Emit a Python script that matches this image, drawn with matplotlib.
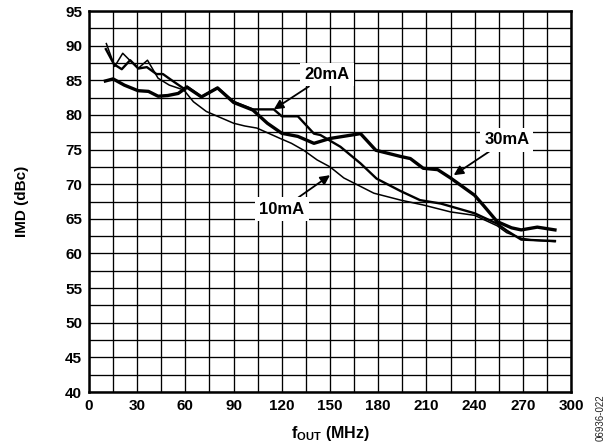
import matplotlib
matplotlib.use("Agg")
import matplotlib.pyplot as plt
from matplotlib.ticker import MultipleLocator

plt.rcParams['font.family'] = ['Liberation Sans', 'DejaVu Sans']
plt.rcParams['font.weight'] = 'bold'
plt.rcParams['mathtext.fontset'] = 'custom'
plt.rcParams['mathtext.rm'] = 'Liberation Sans:bold'
plt.rcParams['mathtext.bf'] = 'Liberation Sans:bold'
plt.rcParams['mathtext.it'] = 'Liberation Sans:bold'

# ---- data ----
freq_10ma = [10.8, 16, 21, 30.5, 36.4, 43, 50, 59, 65, 73, 90, 97, 104.5, 119, 126,
             133.6, 142, 150, 158.6, 177.3, 194, 208, 225, 240, 254, 260, 269, 277, 290]
imd_10ma = [90.3, 87.0, 88.9, 86.7, 87.9, 85.3, 84.3, 83.6, 81.9, 80.5, 78.8, 78.4, 78.1, 76.6, 75.9,
            74.9, 73.5, 72.5, 70.9, 68.7, 67.7, 67.0, 66.0, 65.5, 64.0, 63.0, 62.2, 61.9, 61.7]

freq_20ma = [10.5, 15.6, 20.4, 25.6, 30.8, 36, 42, 46, 51.5, 59, 61, 70, 80, 90, 102, 115,
             120, 130, 140, 144, 156.5, 169, 179, 194, 206, 219, 225, 240, 254, 260, 269, 290]
imd_20ma = [89.5, 87.3, 86.6, 87.9, 86.7, 86.9, 85.9, 85.9, 85.0, 83.8, 84.1, 82.6, 83.9, 81.9, 80.8, 80.8,
            79.8, 79.8, 77.3, 77.1, 75.4, 73.0, 70.8, 69.0, 67.7, 67.2, 66.8, 65.8, 64.3, 63.3, 62.0, 61.8]

freq_30ma = [10.2, 15, 22, 30.5, 37, 43, 49, 55.5, 61, 70, 80, 90, 102, 111, 120, 130, 140,
             150, 169, 178.5, 194, 200, 208, 217, 225, 240, 246, 254, 263, 269, 279, 290]
imd_30ma = [84.9, 85.2, 84.3, 83.5, 83.4, 82.7, 82.8, 83.1, 84.0, 82.6, 83.9, 81.8, 80.7, 78.8, 77.35, 76.9, 75.9,
            76.6, 77.3, 74.9, 74.0, 73.7, 72.3, 72.1, 70.9, 68.4, 66.8, 64.6, 63.7, 63.4, 63.8, 63.4]

x_ticks = [0, 30, 60, 90, 120, 150, 180, 210, 240, 270, 300]
y_ticks = [40, 45, 50, 55, 60, 65, 70, 75, 80, 85, 90, 95]

fig = plt.figure(figsize=(6.15, 4.48), dpi=100)
ax = fig.add_axes([0.1447, 0.125, 0.7838, 0.8504])

ax.plot(freq_10ma, imd_10ma, color='black', lw=1.1, zorder=3)
ax.plot(freq_20ma, imd_20ma, color='black', lw=1.7, zorder=3)
ax.plot(freq_30ma, imd_30ma, color='black', lw=2.4, zorder=3)

ax.set_xlim(0, 300)
ax.set_ylim(40, 95)
ax.set_xticks(x_ticks)
ax.set_yticks(y_ticks)
ax.xaxis.set_minor_locator(MultipleLocator(15))
ax.yaxis.set_minor_locator(MultipleLocator(2.5))
ax.grid(True, which='both', color='black', lw=0.95)
ax.set_axisbelow(True)
ax.tick_params(which='both', length=0, labelsize=11, pad=5)
for lab in ax.get_xticklabels() + ax.get_yticklabels():
    lab.set_fontweight('bold')
for s in ax.spines.values():
    s.set_linewidth(1.8)

ax.set_xlabel(r'f$_{\mathrm{OUT}}$ (MHz)', fontsize=11.5, fontweight='bold', labelpad=8)
ax.set_ylabel('IMD (dBc)', fontsize=11, fontweight='bold')
ax.yaxis.set_label_coords(-0.125, 0.5)

arrow = dict(arrowstyle='-|>', color='black', lw=1.3, mutation_scale=14, shrinkA=0, shrinkB=0)
box = dict(boxstyle='square,pad=0.25', fc='white', ec='none')
ax.annotate('20mA', xy=(115, 80.8), xytext=(148, 85.8), fontsize=12, fontweight='bold',
            ha='center', va='center', bbox=box, arrowprops=arrow, zorder=5)
ax.annotate('30mA', xy=(227, 71.3), xytext=(260, 76.4), fontsize=12, fontweight='bold',
            ha='center', va='center', bbox=box, arrowprops=arrow, zorder=5)
ax.annotate('10mA', xy=(150, 71.3), xytext=(120, 66.4), fontsize=12, fontweight='bold',
            ha='center', va='center', bbox=box, arrowprops=arrow, zorder=5)

fig.text(0.976, 0.068, '06936-022', rotation=90, fontsize=7, color='#222222',
         ha='center', va='center', fontweight='normal')

fig.savefig('out.png', dpi=100)
